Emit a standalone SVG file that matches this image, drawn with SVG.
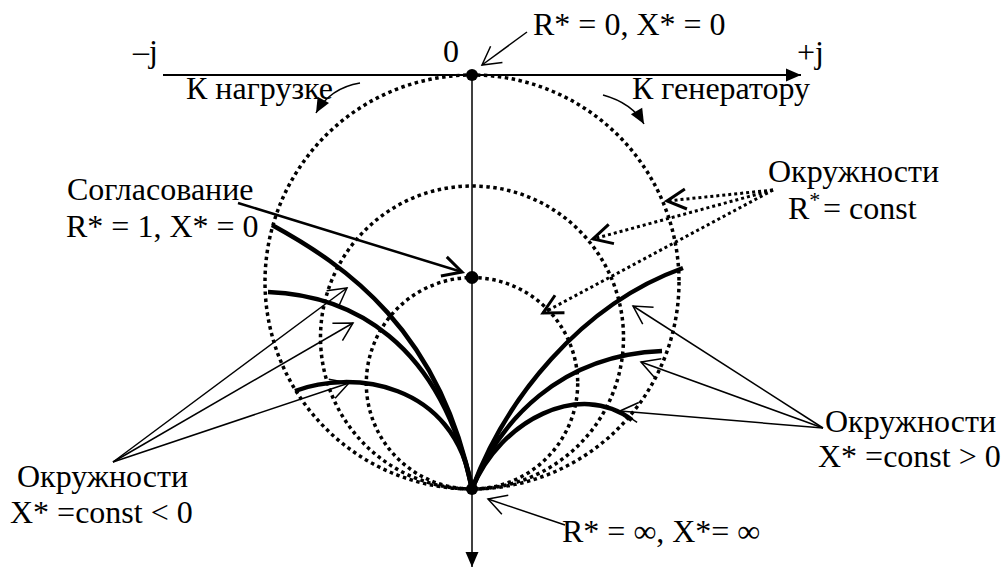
<svg xmlns="http://www.w3.org/2000/svg" width="1005" height="568" viewBox="0 0 1005 568">
<style>
text { font-family: "Liberation Serif", "Times New Roman", serif; font-size: 32px; fill: #000; }
.dot { fill: #000; }
.rc { fill: none; stroke: #000; stroke-width: 3.5; stroke-dasharray: 3.5 3.5; }
.xc { fill: none; stroke: #000; stroke-width: 4.5; }
.thin { fill: none; stroke: #000; stroke-width: 1.5; }
.med { fill: none; stroke: #000; stroke-width: 2.5; }
.dl { fill: none; stroke: #000; stroke-width: 3; stroke-dasharray: 3 3; }
.axis { fill: none; stroke: #000; }
</style>
<defs>
<marker id="fa" markerUnits="userSpaceOnUse" markerWidth="20" markerHeight="20" viewBox="-18 -10 20 20" refX="0" refY="0" orient="auto" overflow="visible"><path d="M0,0 L-15,-6.5 L-15,6.5 Z" fill="#000"/></marker>
<marker id="oa" markerUnits="userSpaceOnUse" markerWidth="24" markerHeight="24" viewBox="-22 -12 24 24" refX="0" refY="0" orient="auto" overflow="visible"><path d="M-18,-10 L0,0 L-18,10" fill="none" stroke="#000" stroke-width="1.5"/></marker>
<marker id="ob" markerUnits="userSpaceOnUse" markerWidth="24" markerHeight="24" viewBox="-22 -12 24 24" refX="0" refY="0" orient="auto" overflow="visible"><path d="M-19,-10 L0,0 L-19,10" fill="none" stroke="#000" stroke-width="3"/></marker>
</defs>

<g id="r-circles">
<circle id="circle-big" class="rc" cx="472" cy="282" r="207"/>
<circle id="circle-mid" class="rc" cx="472" cy="337.5" r="151.5"/>
<circle id="circle-small" class="rc" cx="472" cy="383.3" r="105.7"/>
</g>

<g id="x-arcs">
<path id="arc-l1" class="xc" d="M272,225 C345,265 440,330 472,489"/>
<path id="arc-l2" class="xc" d="M268,292 C350,295 440,340 472,489"/>
<path id="arc-l3" class="xc" d="M295,391 C350,370 455,380 472,489"/>
<path id="arc-r1" class="xc" d="M472,489 C505,400 580,305 683,268"/>
<path id="arc-r2" class="xc" d="M472,489 C500,420 560,355 662,351"/>
<path id="arc-r3" class="xc" d="M472,489 C500,420 580,380 632,420"/>
</g>

<g id="connectors">
<line class="axis" stroke-width="2" x1="163" y1="75" x2="801" y2="75" marker-end="url(#fa)"/>
<line class="axis" stroke-width="1.5" x1="472" y1="75" x2="472" y2="567" marker-end="url(#fa)"/>
<path class="thin" d="M360,83 Q330,88 316,113" marker-end="url(#fa)"/>
<path class="thin" d="M603,95 Q632,103 644,124" marker-end="url(#fa)"/>
<line class="thin" x1="527" y1="32" x2="482" y2="65" marker-end="url(#oa)"/>
<line class="med" x1="238" y1="203" x2="462" y2="272" marker-end="url(#ob)"/>
<line class="dl" x1="773" y1="190" x2="667" y2="201" marker-end="url(#ob)"/>
<line class="dl" x1="773" y1="190" x2="593" y2="239" marker-end="url(#ob)"/>
<line class="dl" x1="773" y1="190" x2="543" y2="313" marker-end="url(#ob)"/>
<line class="thin" x1="113" y1="462" x2="347" y2="288" marker-end="url(#oa)"/>
<line class="thin" x1="113" y1="462" x2="353" y2="323" marker-end="url(#oa)"/>
<line class="thin" x1="113" y1="462" x2="349" y2="383" marker-end="url(#oa)"/>
<line class="thin" x1="823" y1="428" x2="633" y2="306" marker-end="url(#oa)"/>
<line class="thin" x1="823" y1="428" x2="641" y2="362" marker-end="url(#oa)"/>
<line class="thin" x1="823" y1="428" x2="620" y2="411" marker-end="url(#oa)"/>
<line class="thin" x1="565" y1="525" x2="488" y2="499" marker-end="url(#oa)"/>
</g>

<g id="point-zero"><circle class="dot" cx="472" cy="75" r="6"/></g>
<g id="point-match"><circle class="dot" cx="472" cy="277.5" r="6.5"/></g>
<g id="point-inf"><circle class="dot" cx="472" cy="489" r="6"/></g>

<g id="labels">
<text x="133" y="62">–j</text>
<text x="443" y="62">0</text>
<text x="797" y="63">+j</text>
<text x="533" y="35">R* = 0, X* = 0</text>
<text x="186" y="99">К нагрузке</text>
<text x="632" y="99">К генератору</text>
<text x="67" y="200">Согласование</text>
<text x="66" y="237">R* = 1, X* = 0</text>
<text x="768" y="182">Окружности</text>
<text x="788" y="219">R<tspan dy="-12" font-size="22">*</tspan><tspan x="823" dy="12">= const</tspan></text>
<text x="17" y="487">Окружности</text>
<text x="10" y="523">X* =const &lt; 0</text>
<text x="825" y="432">Окружности</text>
<text x="818" y="467">X* =const &gt; 0</text>
<text x="562" y="542">R* = ∞, X*= ∞</text>
</g>
</svg>
